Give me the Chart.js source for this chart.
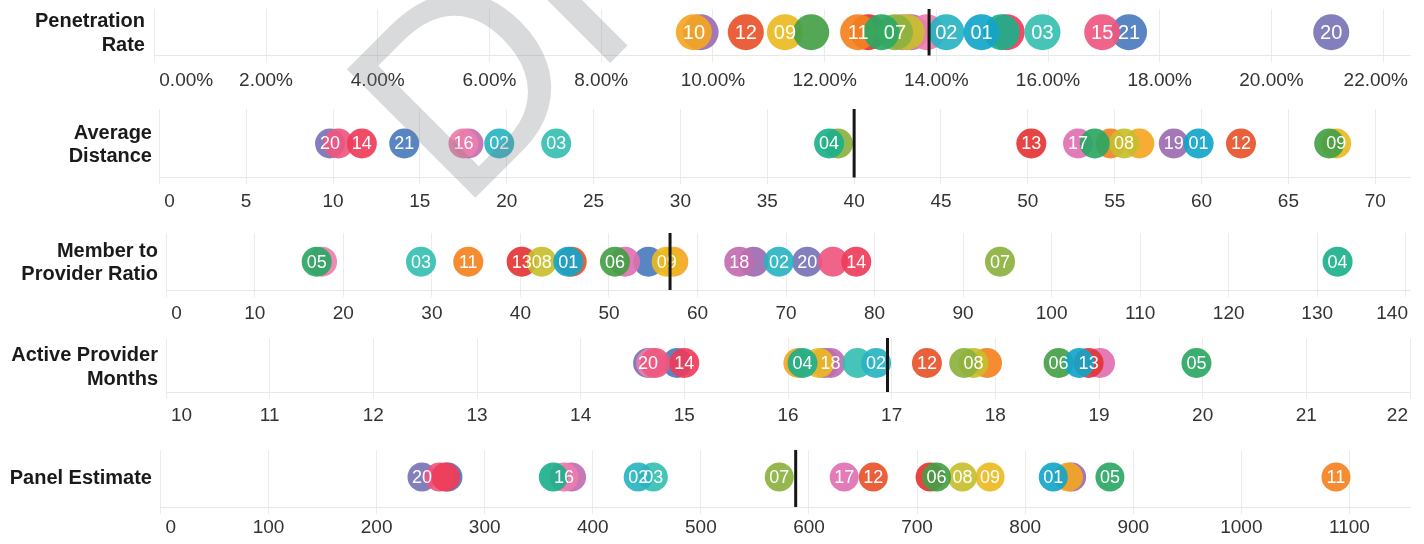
<!DOCTYPE html>
<html><head><meta charset="utf-8">
<script src="https://cdn.jsdelivr.net/npm/chart.js@4.4.0/dist/chart.umd.min.js"></script>
<style>
html,body{margin:0;padding:0;background:#fff;}
#wrap{position:relative;width:1424px;height:544px;overflow:hidden;font-family:"Liberation Sans",Arial,sans-serif;}
canvas.row{position:absolute;left:0;}
.title{position:absolute;font-weight:bold;font-size:20px;line-height:23.5px;color:#1a1a1a;text-align:right;white-space:nowrap;}
#wm{position:absolute;left:0;top:0;pointer-events:none;}
</style></head><body><div id="wrap"></div>
<script>
// ---- data ----
const ids = ['01','02','03','04','05','06','07','08','09','10','11','12','13','14','15','16','17','18','19','20','21'];
const idColors = ['#14a5c9','#29b3c2','#35bfb1','#1db08b','#2ba864','#44a047','#8cb23f','#c7bf2e','#ecba21','#f5a623','#f5821f','#e8532a','#e53434','#ef3d5a','#f0577f','#ee7eac','#e070b1','#c26cb1','#9c6bb1','#7873b6','#4b7bbd'];
const rowNames = [['Penetration','Rate'],['Average','Distance'],['Member to','Provider Ratio'],['Active Provider','Months'],['Panel Estimate']];
const penetrationRate = [14.81,14.18,15.90,15.17,13.02,11.76,13.26,13.47,11.29,9.66,12.60,10.59,12.78,15.26,16.97,13.83,13.40,13.55,9.78,21.07,17.45];
const averageDistance = [59.83,19.57,22.85,38.56,53.85,67.35,39.07,55.54,67.75,56.42,54.76,62.27,50.20,11.66,10.31,17.51,52.89,17.80,58.40,9.83,14.10];
const memberToProviderRatio = [45.41,69.2,28.77,132.3,16.99,50.68,94.17,42.4,56.52,57.27,34.11,45.79,40.14,77.93,75.3,17.59,51.81,64.72,66.34,72.39,54.45];
const activeProviderMonths = [18.81,16.85,16.67,16.14,19.94,18.61,17.70,17.79,16.30,16.10,17.92,17.34,18.90,15.00,14.72,14.68,19.01,16.41,16.35,14.65,14.93];
const panelEstimate = [826,442,456,363.5,878.4,718,572.5,742,767.5,840,1087.5,659.5,712,264,258,373.4,632.6,380.4,843,242,266];
const benchmarks = [13.87,40.0,56.9,16.96,587.7];
const penetrationTicks = [0,2,4,6,8,10,12,14,16,18,20,22];
const distanceTicks = [0,5,10,15,20,25,30,35,40,45,50,55,60,65,70];
const ratioTicks = [0,10,20,30,40,50,60,70,80,90,100,110,120,130,140];
const monthsTicks = [10,11,12,13,14,15,16,17,18,19,20,21,22];
const panelTicks = [0,100,200,300,400,500,600,700,800,900,1000,1100];
const labelledIds = [
  ['10','12','09','11','07','02','01','03','15','21','20'],
  ['20','14','21','16','02','03','04','13','17','08','19','01','12','09'],
  ['05','03','11','13','08','01','06','09','18','02','20','14','07','04'],
  ['20','14','04','18','02','12','08','06','13','05'],
  ['20','16','02','03','07','17','12','06','08','09','01','05','11']
];
const series = [penetrationRate,averageDistance,memberToProviderRatio,activeProviderMonths,panelEstimate];
const tickSets = [penetrationTicks,distanceTicks,ratioTicks,monthsTicks,panelTicks];
const tickFormat = [v=>v.toFixed(2)+'%', v=>String(v), v=>String(v), v=>String(v), v=>String(v)];

// ---- layout ----
const W = 1424, PLOT_RIGHT = 1410;
const layout = [
  {top:8.5, base:55, cy:31.7, lblY:80, left:154.3, min:0, max:22.48, r:18, font:20, titleRight:145, titleY:32.5},
  {top:108.5, base:177, cy:143, lblY:201.5, left:159.3, min:0, max:72.0, r:15, font:18, titleRight:152, titleY:144},
  {top:233, base:290, cy:261.7, lblY:314, left:166.3, min:0, max:140.48, r:15, font:18, titleRight:158, titleY:262},
  {top:338, base:392, cy:363, lblY:416, left:166, min:10, max:22, r:15, font:18, titleRight:158, titleY:366.5},
  {top:450, base:507, cy:477, lblY:528, left:160.4, min:0, max:1156, r:14.5, font:18, titleRight:152, titleY:477.5}
];
const FONT = '"Liberation Sans", Arial, sans-serif';
const wrap = document.getElementById('wrap');

function makeRow(i){
  const L = layout[i];
  const H = Math.round(L.lblY + 16 - L.top);
  const cv = document.createElement('canvas');
  cv.className = 'row'; cv.width = W; cv.height = H;
  cv.style.width = W+'px'; cv.style.height = H+'px';
  cv.style.top = L.top + 'px';
  wrap.appendChild(cv);
  const plotH = L.base - L.top;
  const yMax = L.cy - L.top, yMin = -(L.base - L.cy);
  const vals = series[i];
  const order = ids.map((_,k)=>k).reverse();
  const pts = order.map(k=>({x: vals[k], y: 0, id: ids[k]}));
  const cols = order.map(k=>idColors[k]+'eb');
  const shown = labelledIds[i];
  const labelPlugin = {
    id:'pointLabels',
    afterDatasetDraw(chart,args){
      if(args.index !== 1) return;
      const ctx = chart.ctx; ctx.save();
      ctx.font = L.font + 'px ' + FONT; ctx.fillStyle = '#ffffff';
      ctx.textAlign = 'center'; ctx.textBaseline = 'middle';
      args.meta.data.forEach((el,j)=>{
        const d = pts[j];
        if(shown.includes(d.id)) ctx.fillText(d.id, el.x, el.y + 1);
      });
      ctx.restore();
    }
  };
  const tickPlugin = {
    id:'tickLabels',
    afterDraw(chart){
      const sc = chart.scales.x, ctx = chart.ctx, ca = chart.chartArea;
      ctx.save(); ctx.font = '19px ' + FONT; ctx.fillStyle = '#333333';
      ctx.textAlign = 'center'; ctx.textBaseline = 'middle';
      sc.ticks.forEach(t=>{
        const txt = tickFormat[i](t.value);
        const w = ctx.measureText(txt).width;
        let x = sc.getPixelForValue(t.value);
        x = Math.max(x, ca.left + 5 + w/2);
        x = Math.min(x, ca.right - 2 - w/2);
        ctx.fillText(txt, x, L.lblY - L.top);
      });
      ctx.restore();
    }
  };
  new Chart(cv, {
    type:'scatter',
    data:{datasets:[
      {type:'line', data:[{x:benchmarks[i],y:yMin},{x:benchmarks[i],y:yMax}], borderColor:'#161616', borderWidth:3, pointRadius:0, clip:false},
      {type:'scatter', data:pts, pointRadius:L.r, pointHoverRadius:L.r, pointBackgroundColor:cols, pointBorderWidth:0, borderWidth:0, clip:false}
    ]},
    options:{
      responsive:false, animation:false, devicePixelRatio:1,
      events:[],
      layout:{autoPadding:false, padding:{left:L.left, right:W-PLOT_RIGHT, top:0, bottom:0}},
      plugins:{legend:{display:false}, tooltip:{enabled:false}},
      scales:{
        x:{type:'linear', min:L.min, max:L.max,
           afterBuildTicks(s){ s.ticks = tickSets[i].map(v=>({value:v})); },
           afterFit(s){ s.height = H - plotH; },
           ticks:{display:false},
           grid:{color:'#ececec', lineWidth:1, drawTicks:true, tickLength:7, tickColor:'#ececec'},
           border:{display:true, color:'#e8e8e8', width:1}},
        y:{type:'linear', display:false, min:yMin, max:yMax}
      }
    },
    plugins:[labelPlugin, tickPlugin]
  });
  const t = document.createElement('div');
  t.className = 'title';
  const n = rowNames[i].length;
  t.style.right = (W - L.titleRight) + 'px';
  t.style.top = (L.titleY - n*23.5/2) + 'px';
  t.innerHTML = rowNames[i].join('<br>');
  wrap.appendChild(t);
}
for(let i=0;i<5;i++) makeRow(i);

// watermark
const wm = document.createElement('canvas');
wm.id='wm'; wm.width=W; wm.height=544; wrap.appendChild(wm);
const wctx = wm.getContext('2d');
wctx.save();
wctx.translate(460,213); wctx.rotate(-Math.PI/4);
wctx.font = '264px ' + FONT;
wctx.fillStyle = 'rgba(120,122,128,0.28)';
wctx.textBaseline = 'alphabetic';
wctx.fillText('DRAFT', 0, 0);
wctx.restore();
</script></body></html>
